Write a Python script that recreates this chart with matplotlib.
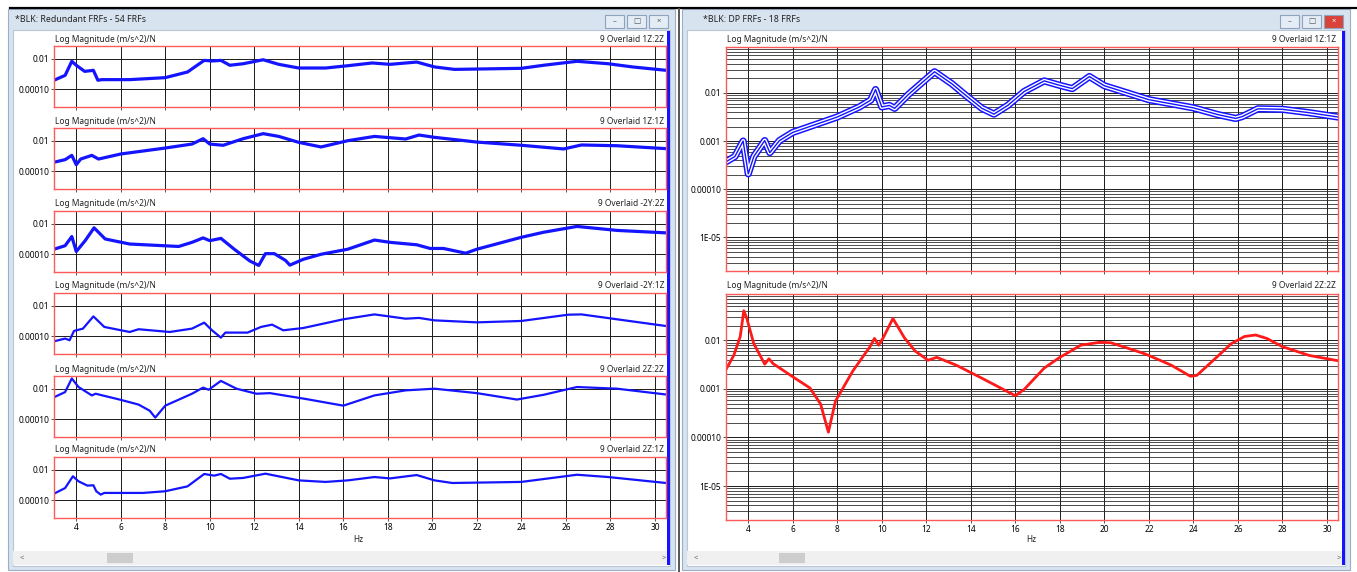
import matplotlib.pyplot as plt
import numpy as np
from matplotlib.patches import Rectangle

W, H = 1357, 572
plt.rcParams['font.family'] = ['Noto Sans', 'DejaVu Sans']

# ---- data: frequency (Hz) and log10 magnitude ((m/s^2)/N) ----
f_1z2z = [3.0, 3.5, 3.8, 4.0, 4.38, 4.77, 4.97, 5.16, 6.4, 8.0, 9.0, 9.75, 10.1, 10.5, 10.9,
          11.5, 12.4, 13.1, 14.0, 15.2, 16.2, 17.3, 18.1, 19.3, 20.1, 21.0, 24.0, 25.0, 26.5,
          27.9, 29.0, 30.5]
lg_1z2z = [-3.41, -3.09, -2.17, -2.43, -2.83, -2.76, -3.41, -3.37, -3.37, -3.24, -2.87, -2.11,
           -2.15, -2.11, -2.43, -2.33, -2.07, -2.37, -2.61, -2.61, -2.46, -2.28, -2.37, -2.22,
           -2.54, -2.70, -2.63, -2.43, -2.17, -2.33, -2.54, -2.76]

f_1z1z = [3.0, 3.5, 3.8, 4.0, 4.2, 4.7, 5.0, 6.0, 8.0, 9.2, 9.7, 10.0, 10.6, 11.5, 12.4, 13.1,
          14.0, 15.0, 16.2, 17.4, 18.8, 19.4, 20.1, 22.0, 24.0, 25.9, 26.7, 28.3, 30.5]
lg_1z1z = [-3.41, -3.24, -2.96, -3.57, -3.20, -2.96, -3.20, -2.87, -2.48, -2.22, -1.87, -2.22,
           -2.30, -1.87, -1.54, -1.72, -2.11, -2.41, -2.00, -1.72, -1.89, -1.63, -1.78, -2.09,
           -2.30, -2.54, -2.28, -2.33, -2.52]

f_m2y2z = [3.0, 3.5, 3.8, 4.0, 4.4, 4.8, 5.3, 6.4, 8.6, 9.2, 9.7, 10.0, 10.5, 11.1, 11.8, 12.2,
           12.5, 12.9, 13.4, 13.6, 14.2, 15.0, 16.2, 17.4, 18.1, 19.3, 19.9, 20.5, 21.5, 22.0,
           24.0, 25.0, 26.5, 28.3, 30.5]
lg_m2y2z = [-3.67, -3.44, -2.84, -3.82, -3.11, -2.27, -3.00, -3.33, -3.49, -3.22, -2.93, -3.11,
            -2.96, -3.67, -4.44, -4.73, -3.96, -3.96, -4.40, -4.71, -4.33, -4.00, -3.67, -3.07,
            -3.22, -3.38, -3.62, -3.62, -3.93, -3.67, -2.89, -2.56, -2.18, -2.44, -2.60]

f_m2y1z = [3.0, 3.5, 3.7, 3.9, 4.3, 4.77, 5.26, 6.4, 6.8, 8.2, 9.2, 9.75, 10.1, 10.5, 10.7, 11.7,
           12.3, 12.8, 13.3, 14.2, 16.0, 17.4, 18.8, 19.4, 20.1, 22.0, 24.0, 26.1, 26.7, 28.3, 30.5]
lg_m2y1z = [-4.33, -4.15, -4.26, -3.65, -3.50, -2.70, -3.39, -3.72, -3.54, -3.72, -3.50, -3.11,
            -3.61, -4.09, -3.76, -3.76, -3.39, -3.24, -3.61, -3.46, -2.89, -2.57, -2.85, -2.80,
            -2.96, -3.09, -3.00, -2.59, -2.57, -2.89, -3.33]

f_2z2z = [3.0, 3.5, 3.8, 4.1, 4.7, 4.87, 6.0, 6.8, 7.3, 7.55, 8.0, 9.2, 9.7, 9.95, 10.5, 11.2,
          12.1, 12.7, 14.3, 16.0, 17.4, 18.8, 20.1, 22.0, 23.8, 25.0, 26.5, 28.3, 30.5]
lg_2z2z = [-2.56, -2.22, -1.33, -1.89, -2.44, -2.33, -2.73, -3.04, -3.44, -3.89, -3.11, -2.33,
           -1.93, -2.07, -1.49, -2.00, -2.33, -2.29, -2.67, -3.11, -2.44, -2.11, -2.00, -2.29,
           -2.71, -2.40, -1.89, -2.00, -2.38]

f_2z1z = [3.0, 3.5, 3.85, 4.1, 4.5, 4.77, 4.9, 5.1, 5.26, 7.0, 8.0, 9.0, 9.75, 10.2, 10.5, 10.9,
          11.5, 12.5, 14.0, 15.2, 16.2, 17.4, 18.1, 19.3, 20.1, 20.9, 24.0, 26.5, 27.9, 30.5]
lg_2z1z = [-3.57, -3.20, -2.43, -2.76, -3.04, -3.02, -3.41, -3.63, -3.52, -3.52, -3.41, -3.09,
           -2.28, -2.39, -2.28, -2.59, -2.54, -2.26, -2.70, -2.80, -2.70, -2.48, -2.57, -2.35,
           -2.70, -2.87, -2.80, -2.33, -2.48, -2.87]

f_dp_1z1z = [3.0, 3.4, 3.77, 4.0, 4.25, 4.74, 4.97, 5.4, 6.0, 8.0, 9.0, 9.5, 9.72, 10.0, 10.34,
             10.58, 11.2, 12.37, 13.15, 13.8, 14.5, 15.04, 15.66, 16.4, 17.3, 17.98, 18.56, 19.33,
             20.0, 22.0, 24.0, 25.1, 25.9, 26.2, 26.9, 28.0, 29.2, 30.5]
lg_dp_1z1z = [-3.43, -3.32, -3.00, -3.68, -3.32, -2.99, -3.24, -2.99, -2.82, -2.50, -2.29, -2.15,
              -1.93, -2.29, -2.26, -2.32, -2.03, -1.56, -1.81, -2.06, -2.32, -2.44, -2.26, -1.97,
              -1.75, -1.84, -1.91, -1.66, -1.85, -2.14, -2.31, -2.45, -2.53, -2.49, -2.33, -2.34,
              -2.41, -2.50]

f_dp_2z2z = [3.0, 3.35, 3.64, 3.8, 3.93, 4.25, 4.74, 4.93, 5.12, 6.0, 6.77, 7.25, 7.6, 7.92, 8.7,
             9.47, 9.67, 9.86, 10.06, 10.5, 11.02, 11.5, 12.08, 12.47, 13.34, 14.5, 15.46, 16.0,
             16.4, 17.3, 17.97, 18.94, 19.8, 20.3, 21.84, 23.0, 23.87, 24.16, 24.9, 25.7, 26.3,
             26.8, 27.3, 28.0, 29.2, 30.5]
lg_dp_2z2z = [-2.60, -2.31, -1.92, -1.39, -1.54, -2.07, -2.49, -2.38, -2.48, -2.75, -2.98, -3.31,
              -3.89, -3.25, -2.63, -2.13, -1.96, -2.10, -1.95, -1.55, -1.95, -2.22, -2.41, -2.35,
              -2.51, -2.78, -3.01, -3.14, -3.01, -2.57, -2.36, -2.10, -2.04, -2.05, -2.28, -2.51,
              -2.74, -2.72, -2.41, -2.07, -1.92, -1.89, -1.96, -2.13, -2.31, -2.42]

left_ids = ['1Z:2Z', '1Z:1Z', '-2Y:2Z', '-2Y:1Z', '2Z:2Z', '2Z:1Z']
left_f = [f_1z2z, f_1z1z, f_m2y2z, f_m2y1z, f_2z2z, f_2z1z]
left_lg = [lg_1z2z, lg_1z1z, lg_m2y2z, lg_m2y1z, lg_2z2z, lg_2z1z]
right_ids = ['1Z:1Z', '2Z:2Z']

xticks = list(range(4, 31, 2))
ylabel = 'Log Magnitude (m/s^2)/N'
BLUE, RED, FRAME = '#1414ff', '#ff1a1a', '#d8e3f0'

fig = plt.figure(figsize=(W / 100, H / 100), dpi=100)
bg = fig.add_axes([0, 0, 1, 1])
bg.set_xlim(0, W)
bg.set_ylim(H, 0)
bg.axis('off')


def px(x0, y0, x1, y1):
    return [x0 / W, 1 - y1 / H, (x1 - x0) / W, (y1 - y0) / H]


def rect(x0, y0, x1, y1, fc, ec='none', lw=0.8, z=1):
    bg.add_patch(Rectangle((x0, y0), x1 - x0, y1 - y0, fc=fc, ec=ec, lw=lw, zorder=z))


def window(x0, x1, title, thumb, red_close):
    rect(x0, 9, x1, 570, FRAME, '#9aaec6')
    rect(x0 + 5, 30, x1 - 5, 566, 'white', '#b8c6d6')
    bg.text(x0 + 7 + (14 if red_close else 0), 20, title, fontsize=6.3, va='center', color='#222222')
    for i, g in enumerate(['\u2013', '\u25a1', '\u00d7']):
        bx = x1 - 70 + i * 22
        fc = '#d9433a' if (red_close and i == 2) else '#e4ecf6'
        rect(bx, 15, bx + 19, 28, fc, '#8fa3bb', z=2)
        bg.text(bx + 9.5, 21.5, g, fontsize=5.5, ha='center', va='center',
                color='white' if (red_close and i == 2) else '#555555', zorder=3)
    rect(x0 + 5, 551, x1 - 8, 565, '#f0f0f0', z=2)
    rect(thumb, 553, thumb + 26, 563, '#cdcdcd', z=3)
    bg.text(x0 + 12, 558, '<', fontsize=5.5, va='center', color='#606060', zorder=3)
    bg.text(x1 - 13, 558, '>', fontsize=5.5, va='center', color='#606060', zorder=3)
    rect(x1 - 8, 31, x1 - 5, 565, BLUE, z=3)


# screenshot chrome
bg.plot([10, W], [8, 8], color='black', lw=1.6)
window(8, 675, '*BLK: Redundant FRFs - 54 FRFs', 107, False)
window(682, 1350, '*BLK: DP FRFs - 18 FRFs', 779, True)
bg.plot([679, 679], [9, H], color='#555555', lw=1.4)


def style(ax, lo, hi, ticks, labels, minor, xlab):
    ax.set_yscale('log')
    ax.set_xlim(3, 30.5)
    ax.set_ylim(10 ** lo, 10 ** hi)
    ax.set_xticks(xticks)
    ax.set_xticklabels([str(t) for t in xticks] if xlab else [])
    ax.set_yticks(ticks)
    ax.set_yticklabels(labels)
    if minor:
        ax.set_yticks([m * 10.0 ** e for e in range(-6, -1) for m in range(2, 10)], minor=True)
        ax.grid(True, which='minor', axis='y', color='#2e2e2e', lw=0.6)
    else:
        ax.set_yticks([], minor=True)
    ax.grid(True, which='major', color='#1a1a1a', lw=0.7)
    ax.tick_params(which='major', labelsize=6, length=2.5, width=0.6, pad=1, color='#333333')
    ax.tick_params(which='minor', length=0)
    for s in ax.spines.values():
        s.set_color('#ff5a5a')
        s.set_linewidth(1.0)
    ax.set_axisbelow(True)


# left window: 6 stacked FRF panels
tops = [46, 128, 211, 293, 376, 457]
for i, top in enumerate(tops):
    ax = fig.add_axes(px(54, top, 666, top + 61))
    lw = 2.3 if i < 3 else 1.6
    ax.plot(left_f[i], 10.0 ** np.array(left_lg[i]), color=BLUE, lw=lw, solid_joinstyle='round')
    style(ax, -5.16, -1.17, [1e-2, 1e-4], ['0.01', '0.00010'], False, i == 5)
    bg.text(55, top - 7, ylabel, fontsize=6, va='center', color='#222222')
    bg.text(664, top - 7, '9 Overlaid ' + left_ids[i], fontsize=6, va='center', ha='right',
            color='#222222')
bg.text(358, 539, 'Hz', fontsize=6, ha='center', va='center', color='#222222')

# right window: driving point FRFs
rticks = [1e-2, 1e-3, 1e-4, 1e-5]
rlabels = ['0.01', '0.001', '0.00010', '1E-05']
ax1 = fig.add_axes(px(726, 47, 1338, 271))
m1 = 10.0 ** np.array(lg_dp_1z1z)
ax1.plot(f_dp_1z1z, m1, color=BLUE, lw=5.2, solid_joinstyle='round')
ax1.plot(f_dp_1z1z, m1, color='white', lw=3.0, solid_joinstyle='round')
ax1.plot(f_dp_1z1z, m1, color=BLUE, lw=1.0, solid_joinstyle='round')
style(ax1, -5.16, -1.21, rticks, rlabels, True, False)

ax2 = fig.add_axes(px(726, 294, 1338, 520))
ax2.plot(f_dp_2z2z, 10.0 ** np.array(lg_dp_2z2z), color=RED, lw=2.0, solid_joinstyle='round')
style(ax2, -5.16, -1.21, rticks, rlabels, True, True)

for top, ident in zip([47, 294], right_ids):
    bg.text(727, top - 8, ylabel, fontsize=6, va='center', color='#222222')
    bg.text(1336, top - 8, '9 Overlaid ' + ident, fontsize=6, va='center', ha='right',
            color='#222222')
bg.text(1031, 539, 'Hz', fontsize=6, ha='center', va='center', color='#222222')

fig.savefig('out.png', dpi=100)
